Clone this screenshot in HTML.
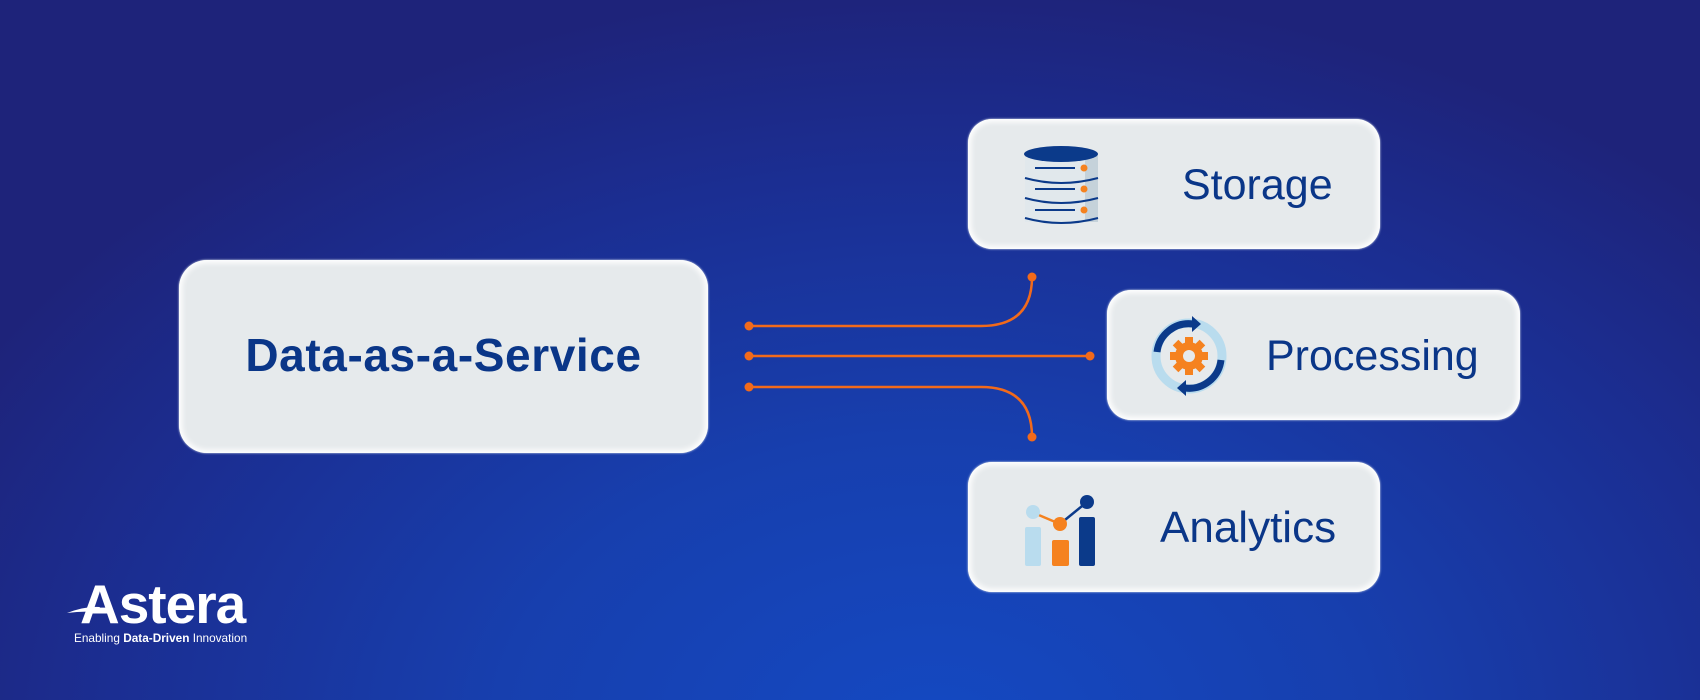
<!DOCTYPE html>
<html><head><style>
html,body{margin:0;padding:0}
body{width:1700px;height:700px;overflow:hidden;position:relative;font-family:"Liberation Sans",sans-serif;
background:radial-gradient(ellipse 1100px 750px at 55% 105%,#1449c2 0%,#173fae 40%,#1b2e92 75%,#1e237a 100%);}
.box{position:absolute;background:#e6eaec;border-radius:24px;box-shadow:inset 0 0 6px 3px #fff,0 0 2px #dfe6f0;color:#0a3688;}
.t{position:absolute;font-size:43px;color:#0a3688;white-space:nowrap;line-height:1}
</style></head><body>
<div class="box" style="left:179px;top:260px;width:529px;height:193px;border-radius:28px;"></div>
<div class="t" style="left:179px;width:529px;text-align:center;top:332px;font-weight:bold;font-size:46px;letter-spacing:0.6px;">Data-as-a-Service</div>

<div class="box" style="left:968px;top:119px;width:412px;height:130px;"></div>
<div class="t" style="left:1182px;top:164px;">Storage</div>
<div class="box" style="left:1107px;top:290px;width:413px;height:130px;"></div>
<div class="t" style="left:1266px;top:335px;">Processing</div>
<div class="box" style="left:968px;top:462px;width:412px;height:130px;"></div>
<div class="t" style="left:1160px;top:506px;font-size:44px;">Analytics</div>

<svg width="1700" height="700" style="position:absolute;left:0;top:0">
<g stroke="#f26a1b" stroke-width="2.5" fill="none">
<path d="M749 326 H981 Q1032 326 1032 277"/>
<path d="M749 356 H1090"/>
<path d="M749 387 H981 Q1032 387 1032 437"/>
</g>
<g fill="#f26a1b">
<circle cx="749" cy="326" r="4.5"/><circle cx="749" cy="356" r="4.5"/><circle cx="749" cy="387" r="4.5"/>
<circle cx="1032" cy="277" r="4.5"/><circle cx="1090" cy="356" r="4.5"/><circle cx="1032" cy="437" r="4.5"/>
</g>
<g>
<rect x="1025" y="154" width="73" height="68" fill="#e1e8ec"/>
<rect x="1085" y="154" width="13" height="68" fill="#c5d2da"/>
<ellipse cx="1061" cy="154" rx="37" ry="8" fill="#0b3a8a"/>
<g stroke="#0b3a8a" stroke-width="2" fill="none">
<path d="M1025 178 Q1061 188 1098 178"/><path d="M1025 198 Q1061 208 1098 198"/><path d="M1025 218 Q1061 228 1098 218"/>
<path d="M1035 168 H1075"/><path d="M1035 189 H1075"/><path d="M1035 210 H1075"/>
</g>
<circle cx="1084" cy="168" r="3.5" fill="#f5821f"/><circle cx="1084" cy="189" r="3.5" fill="#f5821f"/><circle cx="1084" cy="210" r="3.5" fill="#f5821f"/>
</g>
<g transform="translate(1189,356)">
<circle r="33" fill="none" stroke="#b9dcee" stroke-width="9"/>
<path d="M-32 -4 A32 32 0 0 1 4 -32" fill="none" stroke="#0b3a8a" stroke-width="7"/>
<path d="M32 4 A32 32 0 0 1 -4 32" fill="none" stroke="#0b3a8a" stroke-width="7"/>
<path d="M3 -40 L12 -32 L3 -24Z" fill="#0b3a8a"/>
<path d="M-3 40 L-12 32 L-3 24Z" fill="#0b3a8a"/>
<g fill="#f5821f">
<circle r="14"/>
<rect x="-4" y="-19" width="8" height="38"/>
<rect x="-19" y="-4" width="38" height="8"/>
<rect x="-4" y="-19" width="8" height="38" transform="rotate(45)"/>
<rect x="-4" y="-19" width="8" height="38" transform="rotate(-45)"/>
</g>
<circle r="6" fill="#e6eaec"/>
</g>
<g>
<rect x="1025" y="527" width="16" height="39" rx="2" fill="#b9dcee"/>
<rect x="1052" y="540" width="17" height="26" rx="2" fill="#f5821f"/>
<rect x="1079" y="517" width="16" height="49" rx="2" fill="#0b3a8a"/>
<path d="M1034 513 L1060 524" stroke="#f5821f" stroke-width="2.5"/>
<path d="M1060 524 L1087 502" stroke="#0b3a8a" stroke-width="2.5"/>
<circle cx="1033" cy="512" r="7" fill="#b9dcee"/>
<circle cx="1060" cy="524" r="7" fill="#f5821f"/>
<circle cx="1087" cy="502" r="7" fill="#0b3a8a"/>
</g>
<path d="M67 613 Q85 606 100 607 L96 612 Q82 611 67 613Z" fill="#fff"/>
</svg>
<div style="position:absolute;left:80px;top:577px;font-size:55px;font-weight:bold;color:#fff;line-height:1;letter-spacing:-1px">Astera</div>
<div style="position:absolute;left:74px;top:633px;font-size:11.8px;color:#fff;white-space:nowrap;line-height:1">Enabling <b>Data-Driven</b> Innovation</div>
</body></html>
